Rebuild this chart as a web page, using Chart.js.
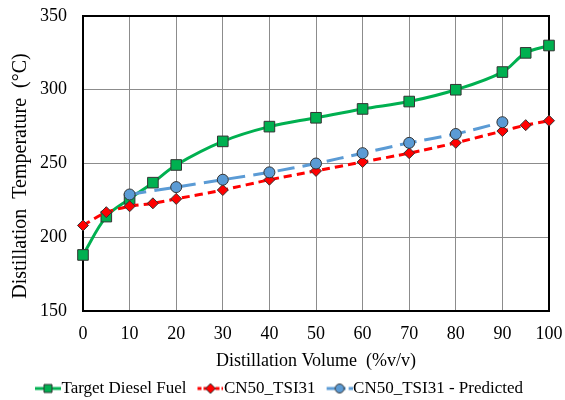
<!DOCTYPE html>
<html>
<head>
<meta charset="utf-8">
<script src="https://cdn.jsdelivr.net/npm/chart.js@4/dist/chart.umd.min.js"></script>
<style>
  html, body { margin: 0; padding: 0; background: #fff; }
  #wrap { width: 565px; height: 400px; }
</style>
</head>
<body>
<div id="wrap"><canvas id="distChart" width="565" height="400"></canvas></div>
<script>
// distillation volume (%v/v) and temperatures (°C)
const volTarget = [0, 5, 10, 15, 20, 30, 40, 50, 60, 70, 80, 90, 95, 100];
const tempTarget = [188, 214, 226, 237, 249, 265, 275, 281, 287, 292, 300, 312, 325, 330];

const volCN50 = [0, 5, 10, 15, 20, 30, 40, 50, 60, 70, 80, 90, 95, 100];
const tempCN50 = [208, 217, 221, 223, 226, 232, 239, 245, 251, 257, 264, 272, 276, 279];

const volPred = [10, 20, 30, 40, 50, 60, 70, 80, 90];
const tempPred = [229, 234, 239, 244, 250, 257, 264, 270, 278];

const seriesNames = ['Target Diesel Fuel', 'CN50_TSI31', 'CN50_TSI31 - Predicted'];

const FONT = "'Liberation Serif', 'DejaVu Serif', serif";
const FS = 18;
const KEY_W = 27; // legend box width; swatch is drawn at its right edge

function toPoints(xs, ys) {
  return xs.map((x, i) => ({ x: x, y: ys[i] }));
}

// line + marker swatch for the legend, pushed to the right so the label sits close
function legendIcon(color, dash, shape) {
  const W = KEY_W + 16;
  const c = document.createElement('canvas');
  c.width = W; c.height = 12;
  const g = c.getContext('2d');
  const x0 = W - 26, mx = x0 + 13;
  g.strokeStyle = color;
  g.lineWidth = 3;
  g.setLineDash(dash);
  g.beginPath(); g.moveTo(x0, 6); g.lineTo(W, 6); g.stroke();
  g.setLineDash([]);
  g.fillStyle = color;
  g.strokeStyle = '#333';
  g.lineWidth = 1;
  g.beginPath();
  if (shape === 'rect') g.rect(mx - 4, 2, 8, 8);
  else if (shape === 'diamond') { g.moveTo(mx, 1); g.lineTo(mx + 5, 6); g.lineTo(mx, 11); g.lineTo(mx - 5, 6); g.closePath(); }
  else g.arc(mx, 6, 4.5, 0, Math.PI * 2);
  g.fill(); g.stroke();
  return c;
}

const icons = [
  legendIcon('#00b050', [], 'rect'),
  legendIcon('#ff0000', [4, 2], 'diamond'),
  legendIcon('#5b9bd5', [8, 3], 'circle')
];

const frame = {
  id: 'frame',
  beforeDatasetsDraw(chart) {
    const a = chart.chartArea, ctx = chart.ctx;
    ctx.save();
    ctx.strokeStyle = '#000';
    ctx.lineWidth = 2;
    ctx.strokeRect(a.left, a.top, a.right - a.left, a.bottom - a.top);
    ctx.restore();
  }
};

// invisible tick marks keep labels off the axis without widening the layout padding
const gridOpts = { color: '#8c8c8c', lineWidth: 1, drawTicks: true, tickColor: 'rgba(0,0,0,0)' };

const ctx = document.getElementById('distChart').getContext('2d');
new Chart(ctx, {
  type: 'line',
  data: {
    datasets: [{
      label: seriesNames[0],
      data: toPoints(volTarget, tempTarget),
      borderColor: '#00b050',
      backgroundColor: '#00b050',
      borderWidth: 3,
      tension: 0.35,
      pointStyle: 'rect',
      pointRadius: 7.5,
      pointBorderColor: '#333',
      pointBorderWidth: 1,
      clip: false,
      order: 3
    }, {
      label: seriesNames[1],
      data: toPoints(volCN50, tempCN50),
      borderColor: '#ff0000',
      backgroundColor: '#ff0000',
      borderWidth: 3,
      borderDash: [8, 5],
      tension: 0.2,
      pointStyle: 'rectRot',
      pointRadius: 5.5,
      pointBorderColor: '#333',
      pointBorderWidth: 1,
      clip: false,
      order: 2
    }, {
      label: seriesNames[2],
      data: toPoints(volPred, tempPred),
      borderColor: '#5b9bd5',
      backgroundColor: '#5b9bd5',
      borderWidth: 3,
      borderDash: [17, 8],
      tension: 0.2,
      pointStyle: 'circle',
      pointRadius: 5.5,
      pointBorderColor: '#333',
      pointBorderWidth: 1,
      clip: false,
      order: 1
    }]
  },
  options: {
    responsive: false,
    animation: false,
    layout: { padding: { top: 16, right: 16, left: 0, bottom: 0 } },
    plugins: {
      tooltip: { enabled: false },
      legend: {
        position: 'bottom',
        maxHeight: 22,
        labels: {
          usePointStyle: true,
          pointStyleWidth: KEY_W,
          boxHeight: 12,
          padding: 2,
          color: '#000',
          font: { family: FONT, size: 17, lineHeight: 1 },
          generateLabels: chart => chart.data.datasets.map((d, i) => ({
            text: d.label,
            pointStyle: icons[i],
            fillStyle: d.backgroundColor,
            strokeStyle: d.borderColor,
            lineWidth: 0,
            hidden: false,
            datasetIndex: i
          }))
        }
      }
    },
    scales: {
      x: {
        type: 'linear',
        min: 0, max: 100,
        afterFit: s => { s.height = 67; },
        ticks: { stepSize: 10, color: '#000', padding: 2, font: { family: FONT, size: FS } },
        grid: Object.assign({ tickLength: 10 }, gridOpts),
        border: { display: false },
        title: { display: true, text: 'Distillation Volume  (%v/v)', color: '#000', font: { family: FONT, size: FS }, padding: { top: 0, bottom: 6 } }
      },
      y: {
        min: 150, max: 350,
        afterFit: s => { s.width = 83; },
        ticks: { stepSize: 50, color: '#000', padding: 2, font: { family: FONT, size: FS } },
        grid: Object.assign({ tickLength: 14 }, gridOpts),
        border: { display: false },
        title: { display: true, text: 'Distillation  Temperature  (°C)     ', color: '#000', font: { family: FONT, size: 20 }, padding: { top: 9, bottom: 0 } }
      }
    }
  },
  plugins: [frame]
});
</script>
</body>
</html>
